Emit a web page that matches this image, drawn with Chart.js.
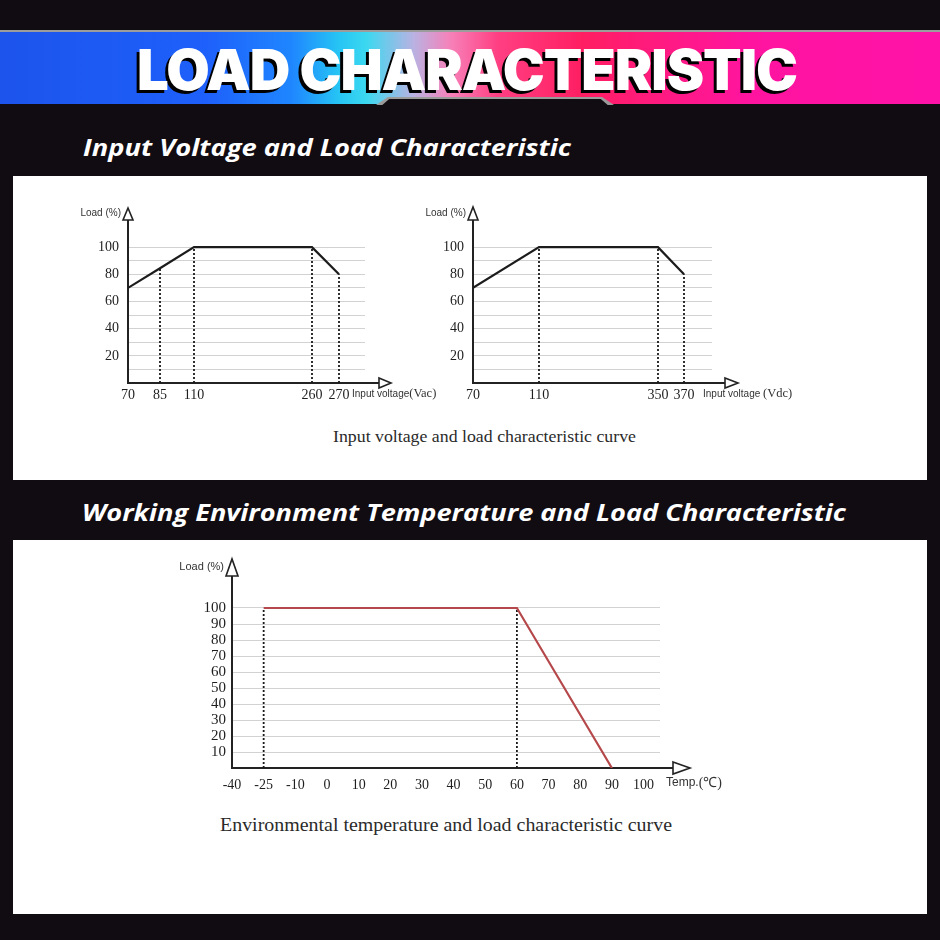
<!DOCTYPE html>
<html><head><meta charset="utf-8">
<script src="https://cdn.jsdelivr.net/npm/chart.js@4.4.1/dist/chart.umd.min.js"></script>
<style>
html,body{margin:0;padding:0;width:940px;height:940px;overflow:hidden;background:#110c12;position:relative}
#band{position:absolute;left:0;top:30px;width:940px;height:72px;border-top:2px solid #9c9c9c;
 background:linear-gradient(90deg,#1c54ec 0%,#1e60fb 22%,#1f86ff 31%,#26c4f4 36%,#3cd8f0 39%,#b9b2e2 44%,#f780b8 48%,#ff3f82 53%,#ff1e62 62%,#ff1a80 70%,#ff14a0 80%,#ff12a8 100%)}
#notchO{position:absolute;left:376px;top:97px;width:238px;height:8px;background:#9a9a9a;clip-path:polygon(0 100%,5% 0,95% 0,100% 100%)}
#notch{position:absolute;left:380px;top:99px;width:230px;height:8px;background:#110c12;clip-path:polygon(0 100%,4% 0,96% 0,100% 100%)}
#title{position:absolute;left:137px;top:40px;font-family:Inter,Roboto,'Open Sans',sans-serif;font-weight:900;font-size:56px;line-height:60px;color:#fff;white-space:nowrap;text-shadow:-3px 3px 0 #000;transform-origin:0 50%;display:inline-block;letter-spacing:-1px}
.sub{position:absolute;font-family:'Open Sans',Lato,sans-serif;font-style:italic;font-weight:700;font-size:23px;line-height:30px;color:#fff;white-space:nowrap;transform-origin:0 50%;display:inline-block}
.panel{position:absolute;left:13px;width:914px;background:#fff}
canvas{position:absolute}
.cap{position:absolute;font-family:'Liberation Serif','Times New Roman',serif;color:#2a2a2a;white-space:nowrap;transform-origin:0 50%;display:inline-block}
</style></head>
<body>
<div id="band"></div>
<div id="notchO"></div>
<div id="notch"></div>
<div id="title" data-w="660">LOAD CHARACTERISTIC</div>
<div class="sub" id="sub1" style="left:83px;top:132px" data-w="488">Input Voltage and Load Characteristic</div>
<div class="panel" style="top:176px;height:304px"></div>
<div class="sub" id="sub2" style="left:82px;top:497px" data-w="764">Working Environment Temperature and Load Characteristic</div>
<div class="panel" style="top:540px;height:374px"></div>
<canvas id="cAC" width="420" height="220" style="left:20px;top:190px"></canvas>
<canvas id="cDC" width="420" height="220" style="left:400px;top:190px"></canvas>
<canvas id="cT" width="640" height="250" style="left:140px;top:550px"></canvas>
<div class="cap" style="left:333px;top:426px;font-size:16.5px;line-height:22px" data-w="303">Input voltage and load characteristic curve</div>
<div class="cap" style="left:220px;top:813px;font-size:18.5px;line-height:24px" data-w="452">Environmental temperature and load characteristic curve</div>
<script>
// ---------------- data ----------------
const acVoltage = [70, 85, 110, 260, 270];
const acLoad    = [70, 84.5, 100, 100, 80];
const acGuides  = [85, 110, 260, 270];

const dcVoltage = [70, 110, 350, 370];
const dcLoad    = [70, 100, 100, 80];
const dcGuides  = [110, 350, 370];

const tempTicks  = [-40, -25, -10, 0, 10, 20, 30, 40, 50, 60, 70, 80, 90, 100];
const tempPoints = [-25, 60, 90];
const tempLoad   = [100, 100, 0];
const tempGuides = [-25, 60];

const loadGridLevels   = [0, 10, 20, 30, 40, 50, 60, 70, 80, 90, 100];
const loadLabelsTop    = [20, 40, 60, 80, 100];
const loadLabelsBottom = [10, 20, 30, 40, 50, 60, 70, 80, 90, 100];

// ---------------- piecewise x scale (schematic axis) ----------------
class PiecewiseScale extends Chart.LinearScale {
  _frac(v) {
    const s = this.options.stops, g = this.options.gaps, end = this.options.end;
    const total = g.reduce((a, b) => a + b, 0);
    if (v <= s[0]) return 0;
    let acc = 0;
    for (let i = 0; i < s.length; i++) {
      const lo = s[i], hi = i + 1 < s.length ? s[i + 1] : end;
      if (v <= hi || i === s.length - 1) return (acc + g[i] * (v - lo) / (hi - lo)) / total;
      acc += g[i];
    }
    return 1;
  }
  getPixelForValue(v) { return v === null ? NaN : this.getPixelForDecimal(this._frac(v)); }
  getValueForPixel(p) {
    const s = this.options.stops, g = this.options.gaps, end = this.options.end;
    const total = g.reduce((a, b) => a + b, 0);
    let d = this.getDecimalForPixel(p) * total, acc = 0;
    for (let i = 0; i < s.length; i++) {
      const lo = s[i], hi = i + 1 < s.length ? s[i + 1] : end;
      if (d <= acc + g[i] || i === s.length - 1) return lo + (d - acc) / g[i] * (hi - lo);
      acc += g[i];
    }
    return end;
  }
  buildTicks() { return this.options.stops.map(v => ({ value: v })); }
}
PiecewiseScale.id = 'piecewise';
PiecewiseScale.defaults = {};
Chart.register(PiecewiseScale);

const SERIF = "'Liberation Serif','Times New Roman',serif";
const SANS = "'Liberation Sans',Arial,sans-serif";

// arrows + axis captions
const decor = {
  id: 'decor',
  afterDraw(chart, args, o) {
    const { ctx, chartArea: a } = chart;
    ctx.save();
    ctx.strokeStyle = '#222'; ctx.fillStyle = '#fff';
    ctx.lineWidth = 2;
    ctx.beginPath(); ctx.moveTo(a.right - 1, a.bottom); ctx.lineTo(a.right + o.xExt, a.bottom); ctx.stroke();
    ctx.lineWidth = 1.6;
    ctx.beginPath();
    ctx.moveTo(a.right + o.xExt, a.bottom - o.ah);
    ctx.lineTo(a.right + o.xExt + o.al, a.bottom);
    ctx.lineTo(a.right + o.xExt, a.bottom + o.ah);
    ctx.closePath(); ctx.fill(); ctx.stroke();
    ctx.beginPath();
    ctx.moveTo(a.left - o.ah, a.top);
    ctx.lineTo(a.left, a.top - o.al);
    ctx.lineTo(a.left + o.ah, a.top);
    ctx.closePath(); ctx.fill(); ctx.stroke();
    ctx.fillStyle = '#333'; ctx.textBaseline = 'middle'; ctx.textAlign = 'right';
    ctx.font = o.yFont;
    ctx.fillText('Load (%)', a.left - o.ah - 2, a.top - o.al * 0.55);
    ctx.textAlign = 'left';
    let x = a.right + o.xTitleDx;
    for (const part of o.xTitle) {
      ctx.font = part.font;
      ctx.fillText(part.text, x, a.bottom + o.xTitleDy);
      x += ctx.measureText(part.text).width;
    }
    ctx.restore();
  }
};

function guideSets(xs, ys, guides) {
  return guides.map(g => ({
    data: [{ x: g, y: 0 }, { x: g, y: ys[xs.indexOf(g)] }],
    borderColor: '#1a1a1a', borderWidth: 1.8, borderDash: [2, 2], pointRadius: 0
  }));
}

function makeChart(id, cfg) {
  return new Chart(document.getElementById(id), {
    type: 'line',
    data: {
      datasets: [
        { data: cfg.xs.map((x, i) => ({ x, y: cfg.ys[i] })), borderColor: cfg.color, borderWidth: 2.2,
          pointRadius: 0, tension: 0 },
        ...guideSets(cfg.xs, cfg.ys, cfg.guides)
      ]
    },
    plugins: [decor],
    options: {
      responsive: false, animation: false, events: [],
      layout: { padding: { top: cfg.padTop, right: cfg.padRight, left: 0, bottom: 0 } },
      plugins: { legend: { display: false }, tooltip: { enabled: false }, decor: cfg.decor },
      scales: {
        x: {
          type: 'piecewise', stops: cfg.stops, gaps: cfg.gaps, end: cfg.end,
          min: cfg.stops[0], max: cfg.end, offset: false,
          grid: { display: false, drawTicks: false },
          border: { display: true, color: '#222', width: 2 },
          ticks: { autoSkip: false, maxRotation: 0, padding: cfg.xPad, color: '#1e1e1e',
                   font: { family: SERIF, size: cfg.xFont }, callback: v => String(v) },
          afterFit: s => { s.height = cfg.xH; }
        },
        y: {
          min: 0, max: 120,
          afterBuildTicks: s => { s.ticks = loadGridLevels.map(v => ({ value: v })); },
          grid: { drawTicks: false, lineWidth: 1,
                  color: c => (c.tick && c.tick.value > 0) ? '#d2d2d2' : 'rgba(0,0,0,0)' },
          border: { display: true, color: '#222', width: 2 },
          ticks: { autoSkip: false, padding: cfg.yPad, color: '#1e1e1e', font: { family: SERIF, size: cfg.yFont },
                   callback: v => cfg.yLabels.includes(v) ? String(v) : '' },
          afterFit: s => { s.width = cfg.yW; }
        }
      }
    }
  });
}

makeChart('cAC', {
  xs: acVoltage, ys: acLoad, guides: acGuides, color: '#1c1c1c',
  stops: acVoltage, gaps: [32, 34, 118, 27, 26], end: 280,
  padTop: 30, padRight: 75, xH: 27, yW: 108, xPad: 4, yPad: 9, xFont: 14, yFont: 14,
  yLabels: loadLabelsTop,
  decor: { xExt: 14, al: 12, ah: 5, yFont: '10px ' + SANS, xTitleDx: -13, xTitleDy: 11,
           xTitle: [{ text: 'Input voltage', font: '10px ' + SANS }, { text: '(Vac)', font: '12.5px ' + SERIF }] }
});

makeChart('cDC', {
  xs: dcVoltage, ys: dcLoad, guides: dcGuides, color: '#1c1c1c',
  stops: dcVoltage, gaps: [66, 119, 26, 28], end: 380,
  padTop: 30, padRight: 108, xH: 27, yW: 73, xPad: 4, yPad: 9, xFont: 14, yFont: 14,
  yLabels: loadLabelsTop,
  decor: { xExt: 13, al: 13, ah: 5, yFont: '10px ' + SANS, xTitleDx: -9, xTitleDy: 11,
           xTitle: [{ text: 'Input voltage ', font: '10px ' + SANS }, { text: '(Vdc)', font: '12.5px ' + SERIF }] }
});

makeChart('cT', {
  xs: tempPoints, ys: tempLoad, guides: tempGuides, color: '#b5484a',
  stops: tempTicks, gaps: [1, 1, 1, 1, 1, 1, 1, 1, 1, 1, 1, 1, 1, 0.52], end: 105,
  padTop: 26, padRight: 120, xH: 32, yW: 92, xPad: 9, yPad: 6, xFont: 14, yFont: 15,
  yLabels: loadLabelsBottom,
  decor: { xExt: 13, al: 17, ah: 6, yFont: '11px ' + SANS, xTitleDx: 6, xTitleDy: 15,
           xTitle: [{ text: 'Temp.', font: '12px ' + SANS }, { text: '(℃)', font: '14px ' + SERIF }] }
});

function fitAll() {
  document.querySelectorAll('[data-w]').forEach(el => {
    el.style.transform = 'none';
    const w = el.getBoundingClientRect().width;
    el.style.transform = 'scaleX(' + (parseFloat(el.dataset.w) / w) + ')';
  });
}
fitAll();
if (document.fonts && document.fonts.ready) document.fonts.ready.then(fitAll);
</script>
</body></html>
